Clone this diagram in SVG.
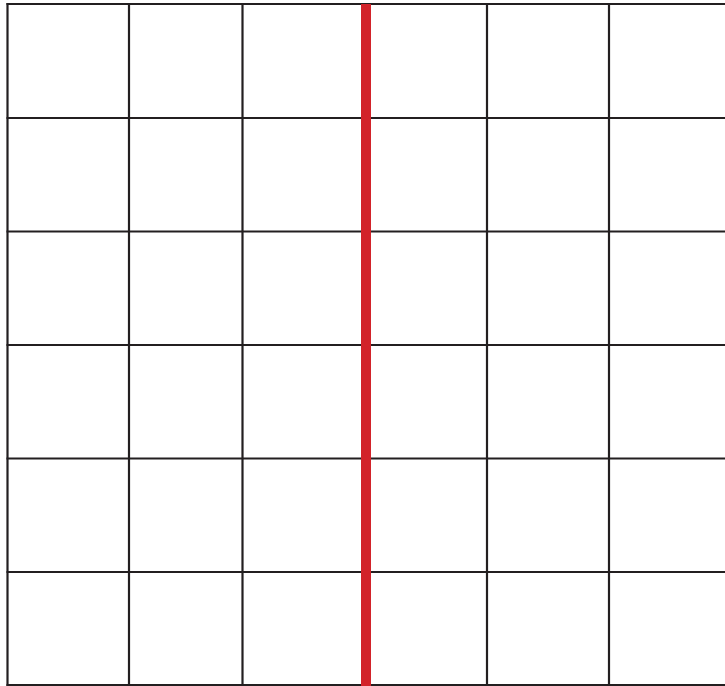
<svg xmlns="http://www.w3.org/2000/svg" width="725" height="686" viewBox="0 0 725 686">
<style>
.g{stroke:#231f20;stroke-width:2.2;fill:none}
.r{stroke:#d2232a;stroke-width:10;fill:none}
</style>
<rect width="725" height="686" fill="#fff"/>
<g id="grid" class="g">
<line x1="6.5" y1="4" x2="725" y2="4"/>
<line x1="6.5" y1="118" x2="725" y2="118"/>
<line x1="6.5" y1="231.5" x2="725" y2="231.5"/>
<line x1="6.5" y1="345" x2="725" y2="345"/>
<line x1="6.5" y1="458.5" x2="725" y2="458.5"/>
<line x1="6.5" y1="572" x2="725" y2="572"/>
<line x1="6.5" y1="685" x2="725" y2="685"/>
<line x1="7.5" y1="3" x2="7.5" y2="686"/>
<line x1="129" y1="3" x2="129" y2="686"/>
<line x1="242.5" y1="3" x2="242.5" y2="686"/>
<line x1="487" y1="3" x2="487" y2="686"/>
<line x1="609" y1="3" x2="609" y2="686"/>
</g>
<g id="axis">
<line class="r" x1="366" y1="4" x2="366" y2="686"/>
</g>
</svg>
